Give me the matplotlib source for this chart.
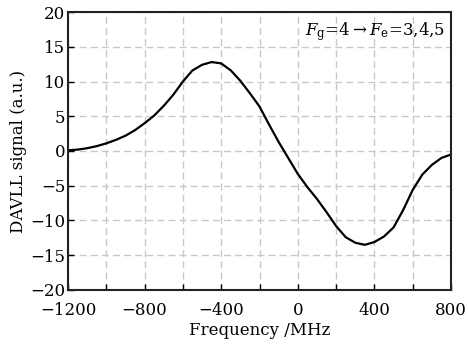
import matplotlib
matplotlib.use("Agg")
import matplotlib.pyplot as plt
from matplotlib.ticker import MultipleLocator

# values
freq = [-1200, -1150, -1100, -1050, -1000, -950, -900, -850, -800, -750,
        -700, -650, -600, -550, -500, -450, -400, -350, -300, -250,
        -200, -150, -100, -50, 0, 50, 100, 150, 200, 250,
        300, 350, 400, 450, 500, 550, 600, 650, 700, 750, 800]
signal = [0.1, 0.2, 0.4, 0.7, 1.1, 1.6, 2.2, 3.0, 4.0, 5.1,
          6.5, 8.1, 10.0, 11.6, 12.4, 12.8, 12.6, 11.6, 10.1, 8.3,
          6.4, 3.8, 1.3, -1.0, -3.3, -5.2, -6.9, -8.8, -10.8, -12.4,
          -13.2, -13.5, -13.1, -12.3, -11.0, -8.5, -5.6, -3.4, -2.0, -1.0, -0.5]

x_ticks = [-1200, -800, -400, 0, 400, 800]
y_ticks = [-20, -15, -10, -5, 0, 5, 10, 15, 20]

plt.rcParams['font.family'] = 'DejaVu Serif'
plt.rcParams['mathtext.fontset'] = 'dejavuserif'
plt.rcParams['font.size'] = 12

fig = plt.figure(figsize=(4.68, 3.48), dpi=100)
ax = fig.add_axes([0.1453, 0.1667, 0.8184, 0.7988])

ax.plot(freq, signal, color='black', lw=1.6, solid_joinstyle='round')

ax.set_xlim(-1200, 800)
ax.set_ylim(-20, 20)
ax.set_xticks(x_ticks)
ax.set_yticks(y_ticks)
ax.xaxis.set_minor_locator(MultipleLocator(200))
ax.grid(True, which='both', color='#c8c8c8', ls=(0, (5, 3)), lw=1)
ax.set_axisbelow(True)
ax.tick_params(which='both', direction='in', length=4, width=1)
ax.tick_params(axis='y', pad=2)
ax.tick_params(axis='x', pad=9)

for s in ax.spines.values():
    s.set_linewidth(1.5)
    s.set_color('#222222')

ax.set_xlabel('Frequency /MHz', labelpad=2)
ax.set_ylabel('DAVLL signal (a.u.)', labelpad=2)

ax.text(0.985, 0.97, r'$F_{\rm g}$=4$\rightarrow$$F_{\rm e}$=3,4,5',
        transform=ax.transAxes, ha='right', va='top', fontsize=12)

fig.savefig('out.png', dpi=100)
